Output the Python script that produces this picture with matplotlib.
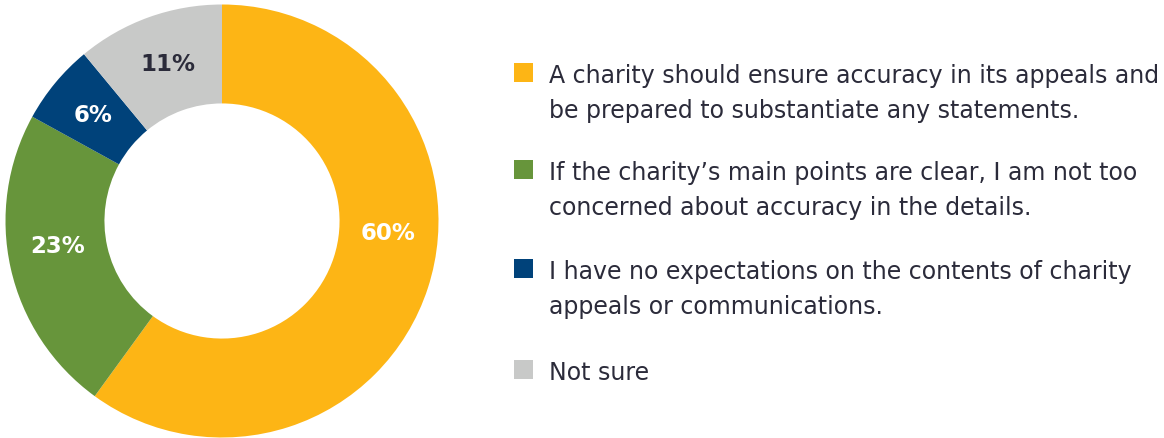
import matplotlib.pyplot as plt
import numpy as np

categories = [
    "A charity should ensure accuracy in its appeals and\nbe prepared to substantiate any statements.",
    "If the charity\u2019s main points are clear, I am not too\nconcerned about accuracy in the details.",
    "I have no expectations on the contents of charity\nappeals or communications.",
    "Not sure",
]
values = [60, 23, 6, 11]
labels = ["60%", "23%", "6%", "11%"]
colors = ["#FDB515", "#67953B", "#00427A", "#C8C9C8"]
label_colors = ["white", "white", "white", "#2B2B3A"]
# small angle nudges (degrees) for label placement
label_nudge = [14, -4, 0, -1]

plt.rcParams["font.family"] = ["DejaVu Sans"]

fig = plt.figure(figsize=(11.64, 4.39), dpi=100)
W, H = 1164, 439
cx, cy, r = 222, 222, 216.5
ax = fig.add_axes([(cx - r) / W, (H - cy - r) / H, 2 * r / W, 2 * r / H])

wedges, _ = ax.pie(values, colors=colors, startangle=90, counterclock=False,
                   radius=1, wedgeprops=dict(width=0.457, linewidth=0))
ax.set_xlim(-1, 1)
ax.set_ylim(-1, 1)
ax.set_aspect("equal")
ax.axis("off")

for w, lab, col, nud in zip(wedges, labels, label_colors, label_nudge):
    ang = np.deg2rad((w.theta1 + w.theta2) / 2 + nud)
    rr = 0.77
    ax.text(rr * np.cos(ang), rr * np.sin(ang), lab, ha="center", va="center",
            color=col, fontsize=16.5, fontweight="bold")

# legend
lax = fig.add_axes([0, 0, 1, 1])
lax.set_xlim(0, W)
lax.set_ylim(H, 0)
lax.axis("off")
baselines = [83, 180, 279, 380]
for yb, cat, col in zip(baselines, categories, colors):
    lax.add_patch(plt.Rectangle((514, yb - 19), 19, 19, color=col, lw=0))
    for i, line in enumerate(cat.split("\n")):
        lax.text(549, yb + 35 * i, line, ha="left", va="baseline",
                 fontsize=17, color="#2B2B3A")

fig.savefig("out.png", dpi=100)
